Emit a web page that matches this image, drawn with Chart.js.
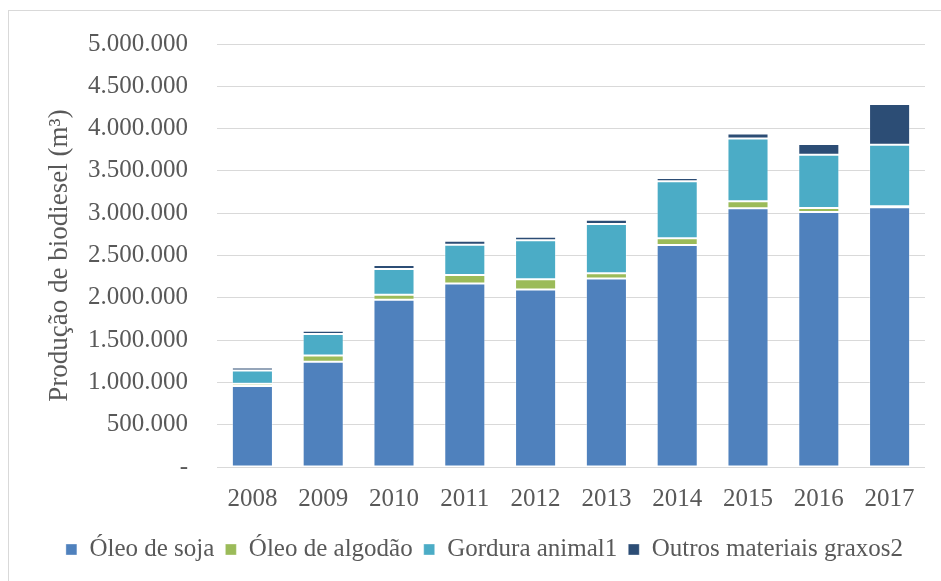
<!DOCTYPE html>
<html>
<head>
<meta charset="utf-8">
<script src="https://cdn.jsdelivr.net/npm/chart.js@4"></script>
<style>
  html, body { margin: 0; padding: 0; background: #fff; }
  #wrap { position: relative; width: 941px; height: 581px; overflow: hidden; }
  #frame { position: absolute; left: 8px; top: 10px; width: 960px; height: 600px;
           border-left: 1px solid #d9d9d9; border-top: 1px solid #d9d9d9; }
  canvas { position: absolute; left: 0; top: 0; }
</style>
</head>
<body>
<div id="wrap">
  <div id="frame"></div>
  <canvas id="chart" width="941" height="581"></canvas>
</div>
<script>
  const years = ["2008", "2009", "2010", "2011", "2012", "2013", "2014", "2015", "2016", "2017"];
  const soja = [956000, 1243000, 1976000, 2168000, 2098000, 2227000, 2624000, 3059000, 3015000, 3071000];
  const algodao = [29000, 74000, 59000, 102000, 122000, 64000, 79000, 82000, 47000, 12000];
  const gordura = [156000, 255000, 306000, 357000, 459000, 580000, 674000, 741000, 628000, 726000];
  const outros = [35000, 39000, 47000, 47000, 43000, 51000, 39000, 59000, 129000, 482000];

  const textColor = "#595959";
  const serif = "'Liberation Serif', 'DejaVu Serif', serif";

  function fmt(v) {
    if (v === 0) return "-";
    return String(v).replace(/\B(?=(\d{3})+(?!\d))/g, ".");
  }

  function series(label, data, color) {
    return {
      label: label,
      data: data,
      backgroundColor: color,
      borderColor: "rgba(255,255,255,0.35)",
      borderWidth: 1,
      borderSkipped: false,
      barPercentage: 0.58,
      categoryPercentage: 1,
    };
  }

  new Chart(document.getElementById("chart"), {
    type: "bar",
    data: {
      labels: years,
      datasets: [
        series("Óleo de soja", soja, "#4f81bd"),
        series("Óleo de algodão", algodao, "#9bbb59"),
        series("Gordura animal1", gordura, "#4bacc6"),
        series("Outros materiais graxos2", outros, "#2c4d75"),
      ],
    },
    options: {
      responsive: false,
      animation: false,
      layout: { padding: { left: 44, right: 16, top: 26, bottom: 9 } },
      plugins: {
        tooltip: { enabled: false },
        legend: {
          position: "bottom",
          labels: {
            color: textColor,
            font: { family: serif, size: 25 },
            boxWidth: 11,
            boxHeight: 11,
            padding: 11,
          },
        },
      },
      scales: {
        x: {
          stacked: true,
          afterFit: (scale) => { scale.height = 59; },
          grid: { display: false },
          border: { display: false },
          ticks: { color: textColor, font: { family: serif, size: 25 }, padding: 9 },
        },
        y: {
          stacked: true,
          min: 0,
          max: 5000000,
          afterFit: (scale) => { scale.width = 173; },
          grid: { color: "#d9d9d9", lineWidth: 1, drawTicks: false },
          border: { display: false },
          ticks: {
            stepSize: 500000,
            color: textColor,
            font: { family: serif, size: 25 },
            padding: 29,
            callback: (v) => fmt(v),
          },
          title: {
            display: true,
            text: "Produção de biodiesel (m³)",
            color: textColor,
            font: { family: serif, size: 27 },
            padding: { top: 0, bottom: 0 },
          },
        },
      },
    },
  });
</script>
</body>
</html>
